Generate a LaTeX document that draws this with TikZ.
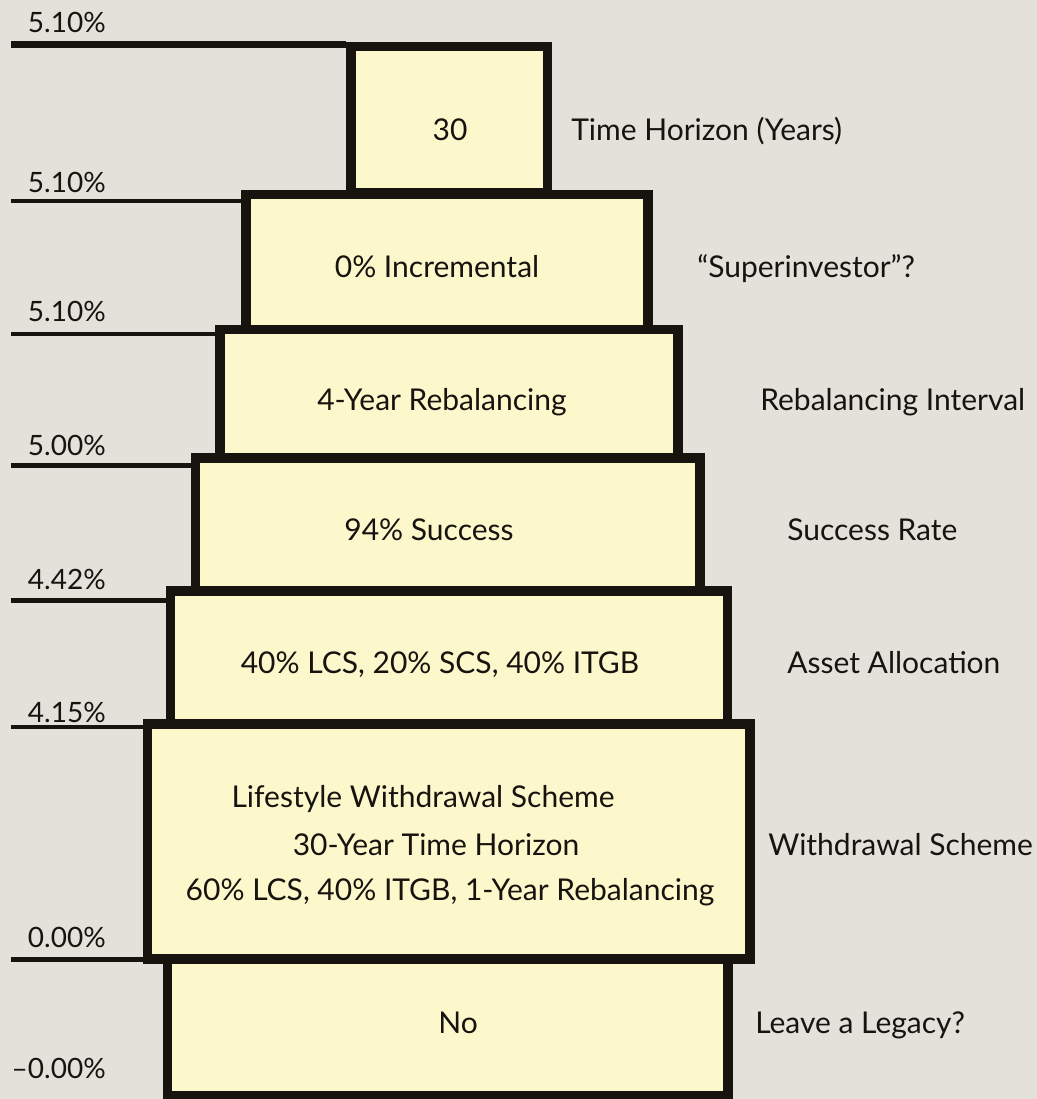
\documentclass[tikz,border=0pt]{standalone}
\usepackage{fontspec}
\setmainfont{Lato}
\definecolor{bgc}{HTML}{E4E0DA}
\definecolor{tierfill}{HTML}{FDF8CC}
\definecolor{ink}{HTML}{17130F}

\begin{document}
\begin{tikzpicture}[x=0.75pt, y=-0.75pt,
  tier/.style = {draw=ink, fill=tierfill, rectangle, line width=7pt, inner sep=0pt},
  txt/.style = {anchor=base, font=\fontsize{22.5}{27}\selectfont, text=ink, inner sep=0pt},
  side/.style = {txt, anchor=base west},
  pct/.style = {txt, anchor=base east, font=\fontsize{21}{25}\selectfont},
  rule/.style = {draw=ink, line width=3.4pt}]

\fill[bgc] (0,0) rectangle (1037,1099);
\useasboundingbox (0,0) rectangle (1037,1099);

% the tiers, top to bottom
\node[tier, minimum width=147.4pt, minimum height=109.9pt] (b1) at (449.25,119.75) {};
\node[tier, minimum width=301.5pt, minimum height=101.25pt] (b2) at (447,262) {};
\node[tier, minimum width=343.5pt, minimum height=96.4pt] (b3) at (449,393.75) {};
\node[tier, minimum width=378.4pt, minimum height=99.75pt] (b4) at (447.75,524.5) {};
\node[tier, minimum width=417.75pt, minimum height=99.75pt] (b5) at (449,657.5) {};
\node[tier, minimum width=451.9pt, minimum height=176.25pt] (b6) at (448.75,841.5) {};
\node[tier, minimum width=420.4pt, minimum height=102.75pt] (b7) at (447.75,1027.5) {};

\node[txt] (t1) at (450,140) {30};
\node[txt] (t2) at (437,277) {0\% Incremental};
\node[txt] (t3) at (442,410) {4-Year Rebalancing};
\node[txt] (t4) at (429,540) {94\% Success};
\node[txt] (t5) at (440,673) {40\% LCS, 20\% SCS, 40\% ITGB};
\node[txt] (t6a) at (423,807) {Lifestyle Withdrawal Scheme};
\node[txt] (t6b) at (436,855) {30-Year Time Horizon};
\node[txt] (t6c) at (450,900) {60\% LCS, 40\% ITGB, 1-Year Rebalancing};
\node[txt] (t7) at (458,1033) {No};

% labels on the right
\node[side] (r1) at (571,140) {Time Horizon (Years)};
\node[side] (r2) at (697,277) {“Superinvestor”?};
\node[side] (r3) at (760,410) {Rebalancing Interval};
\node[side] (r4) at (787,540) {Success Rate};
\node[side] (r5) at (787,673) {Asset Allocation};
\node[side] (r6) at (768,855) {Withdrawal Scheme};
\node[side] (r7) at (755,1033) {Leave a Legacy?};

% rates on the left
\node[pct] (p1) at (106,33) {5.10\%};
\node[pct] (p2) at (106,192) {5.10\%};
\node[pct] (p3) at (106,321) {5.10\%};
\node[pct] (p4) at (106,455) {5.00\%};
\node[pct] (p5) at (106,589) {4.42\%};
\node[pct] (p6) at (106,722) {4.15\%};
\node[pct] (p7) at (106,947) {0.00\%};
\node[pct] (p8) at (106,1078) {--0.00\%};

\coordinate (l1) at (11,44.5);
\coordinate (l2) at (11,201);
\coordinate (l3) at (11,334);
\coordinate (l4) at (11,465.5);
\coordinate (l5) at (11,600.5);
\coordinate (l6) at (11,727);
\coordinate (l7) at (11,959.5);

\draw[rule, line width=5.2pt] (l1) -- (b1.west |- l1);
\draw[rule] (l2) -- (b2.west |- l2);
\draw[rule] (l3) -- (b3.west |- l3);
\draw[rule] (l4) -- (b4.west |- l4);
\draw[rule] (l5) -- (b5.west |- l5);
\draw[rule] (l6) -- (b6.west |- l6);
\draw[rule] (l7) -- (b6.west |- l7);

\end{tikzpicture}
\end{document}
